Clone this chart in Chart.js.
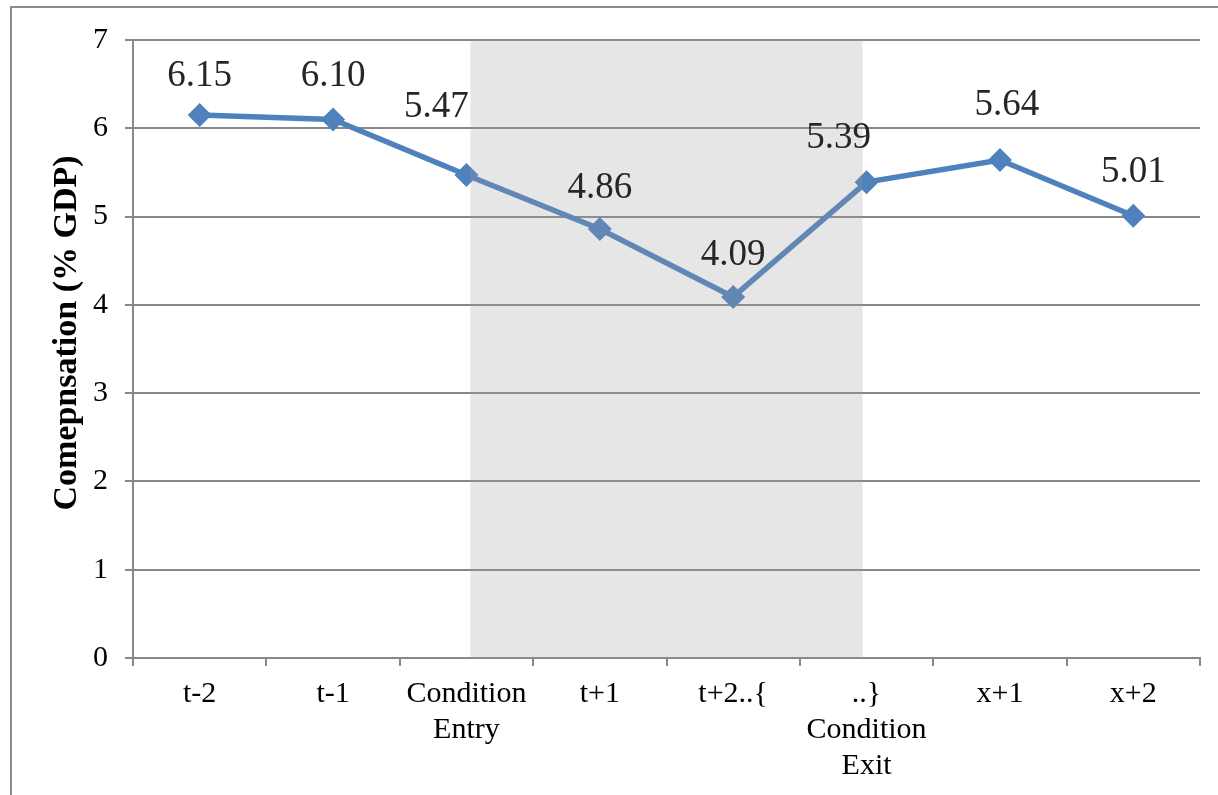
<!DOCTYPE html>
<html>
<head>
<meta charset="utf-8">
<script src="https://cdn.jsdelivr.net/npm/chart.js@4.4.1/dist/chart.umd.min.js"></script>
<style>
  html, body { margin: 0; padding: 0; background: #ffffff; overflow: hidden; }
  canvas { display: block; }
</style>
</head>
<body>
<canvas id="chart" width="1218" height="795"></canvas>
<script>
// Periods around the condition, in order
const categories = [
  't-2',
  't-1',
  ['Condition', 'Entry'],
  't+1',
  't+2..{',
  ['..}', 'Condition', 'Exit'],
  'x+1',
  'x+2'
];

// Compensation as a share of GDP
const compensation = [6.15, 6.10, 5.47, 4.86, 4.09, 5.39, 5.64, 5.01];

// Y axis tick values
const yTicks = [0, 1, 2, 3, 4, 5, 6, 7];

// Y axis title
const yTitle = 'Comepnsation (% GDP)';

// Period indices that bound the condition window
const conditionStart = 2;
const conditionEnd = 5;

const SERIF = '"Liberation Serif", "DejaVu Serif", serif';

// Frame around the whole figure
const frame = {
  id: 'frame',
  beforeDraw(chart) {
    const { ctx } = chart;
    ctx.save();
    ctx.fillStyle = '#ffffff';
    ctx.fillRect(0, 0, chart.width, chart.height);
    ctx.strokeStyle = '#8c8c8c';
    ctx.lineWidth = 2;
    ctx.strokeRect(11, 7, chart.width + 40, chart.height + 40);
    ctx.restore();
  }
};

// Translucent band over the condition window
const conditionBand = {
  id: 'conditionBand',
  afterDatasetsDraw(chart, args, opts) {
    const { ctx, chartArea, scales } = chart;
    const x0 = scales.x.getPixelForValue(opts.from) + opts.inset;
    const x1 = scales.x.getPixelForValue(opts.to) - opts.inset;
    ctx.save();
    ctx.fillStyle = opts.color;
    ctx.fillRect(x0, chartArea.top, x1 - x0, chartArea.bottom - chartArea.top);
    ctx.restore();
  }
};

// Rotated y axis title, placed a little above the axis middle
const axisTitle = {
  id: 'axisTitle',
  afterDraw(chart, args, opts) {
    const { ctx, chartArea } = chart;
    const cy = (chartArea.top + chartArea.bottom) / 2 + opts.shift;
    ctx.save();
    ctx.translate(opts.x, cy);
    ctx.rotate(-Math.PI / 2);
    ctx.font = opts.font;
    ctx.fillStyle = opts.color;
    ctx.textAlign = 'center';
    ctx.textBaseline = 'middle';
    ctx.fillText(opts.text, 0, 0);
    ctx.restore();
  }
};

// Value labels above each point
const pointValues = {
  id: 'pointValues',
  afterDraw(chart, args, opts) {
    const { ctx } = chart;
    const meta = chart.getDatasetMeta(0);
    const values = chart.data.datasets[0].data;
    ctx.save();
    ctx.font = opts.font;
    ctx.fillStyle = opts.color;
    ctx.textAlign = 'center';
    ctx.textBaseline = 'alphabetic';
    meta.data.forEach((pt, i) => {
      const [dx, lift] = opts.offsets[i];
      ctx.fillText(values[i].toFixed(2), pt.x + dx, pt.y - lift);
    });
    ctx.restore();
  }
};

new Chart(document.getElementById('chart'), {
  type: 'line',
  data: {
    labels: categories,
    datasets: [{
      data: compensation,
      borderColor: '#4f81bd',
      borderWidth: 5.5,
      backgroundColor: '#4f81bd',
      pointStyle: 'rectRot',
      pointRadius: 12,
      pointHoverRadius: 12,
      pointBorderWidth: 0,
      pointBackgroundColor: '#4f81bd',
      tension: 0,
      fill: false
    }]
  },
  options: {
    responsive: false,
    animation: false,
    events: [],
    layout: { padding: { top: 40, right: 18, bottom: 0, left: 0 } },
    plugins: {
      legend: { display: false },
      tooltip: { enabled: false },
      conditionBand: { from: conditionStart, to: conditionEnd, inset: 4, color: 'rgba(155,155,155,0.25)' },
      axisTitle: { text: yTitle, x: 67, shift: -16, color: '#000000', font: 'bold 34px ' + SERIF },
      pointValues: {
        font: '37px ' + SERIF,
        color: '#262626',
        offsets: [[0, 29], [0, 33], [-30, 58], [0, 31], [0, 32], [-28, 34], [7, 45], [0, 34]]
      }
    },
    scales: {
      x: {
        type: 'category',
        offset: true,
        afterFit(scale) { scale.height = 137; },
        border: { display: true, color: '#888888', width: 2 },
        grid: {
          display: true,
          offset: true,
          drawOnChartArea: false,
          drawTicks: true,
          tickLength: 8,
          color: '#888888',
          lineWidth: 2
        },
        ticks: {
          color: '#000000',
          padding: 10,
          maxRotation: 0,
          autoSkip: false,
          font: { family: SERIF, size: 30, lineHeight: 1.2 }
        }
      },
      y: {
        min: 0,
        max: 7,
        afterBuildTicks(scale) { scale.ticks = yTicks.map(v => ({ value: v })); },
        afterFit(scale) { scale.width = 133; },
        border: { display: true, color: '#888888', width: 2 },
        grid: {
          color: '#888888',
          lineWidth: 2,
          drawTicks: true,
          tickLength: 8
        },
        ticks: {
          color: '#000000',
          padding: 17,
          font: { family: SERIF, size: 30 }
        }
      }
    }
  },
  plugins: [frame, conditionBand, axisTitle, pointValues]
});
</script>
</body>
</html>
